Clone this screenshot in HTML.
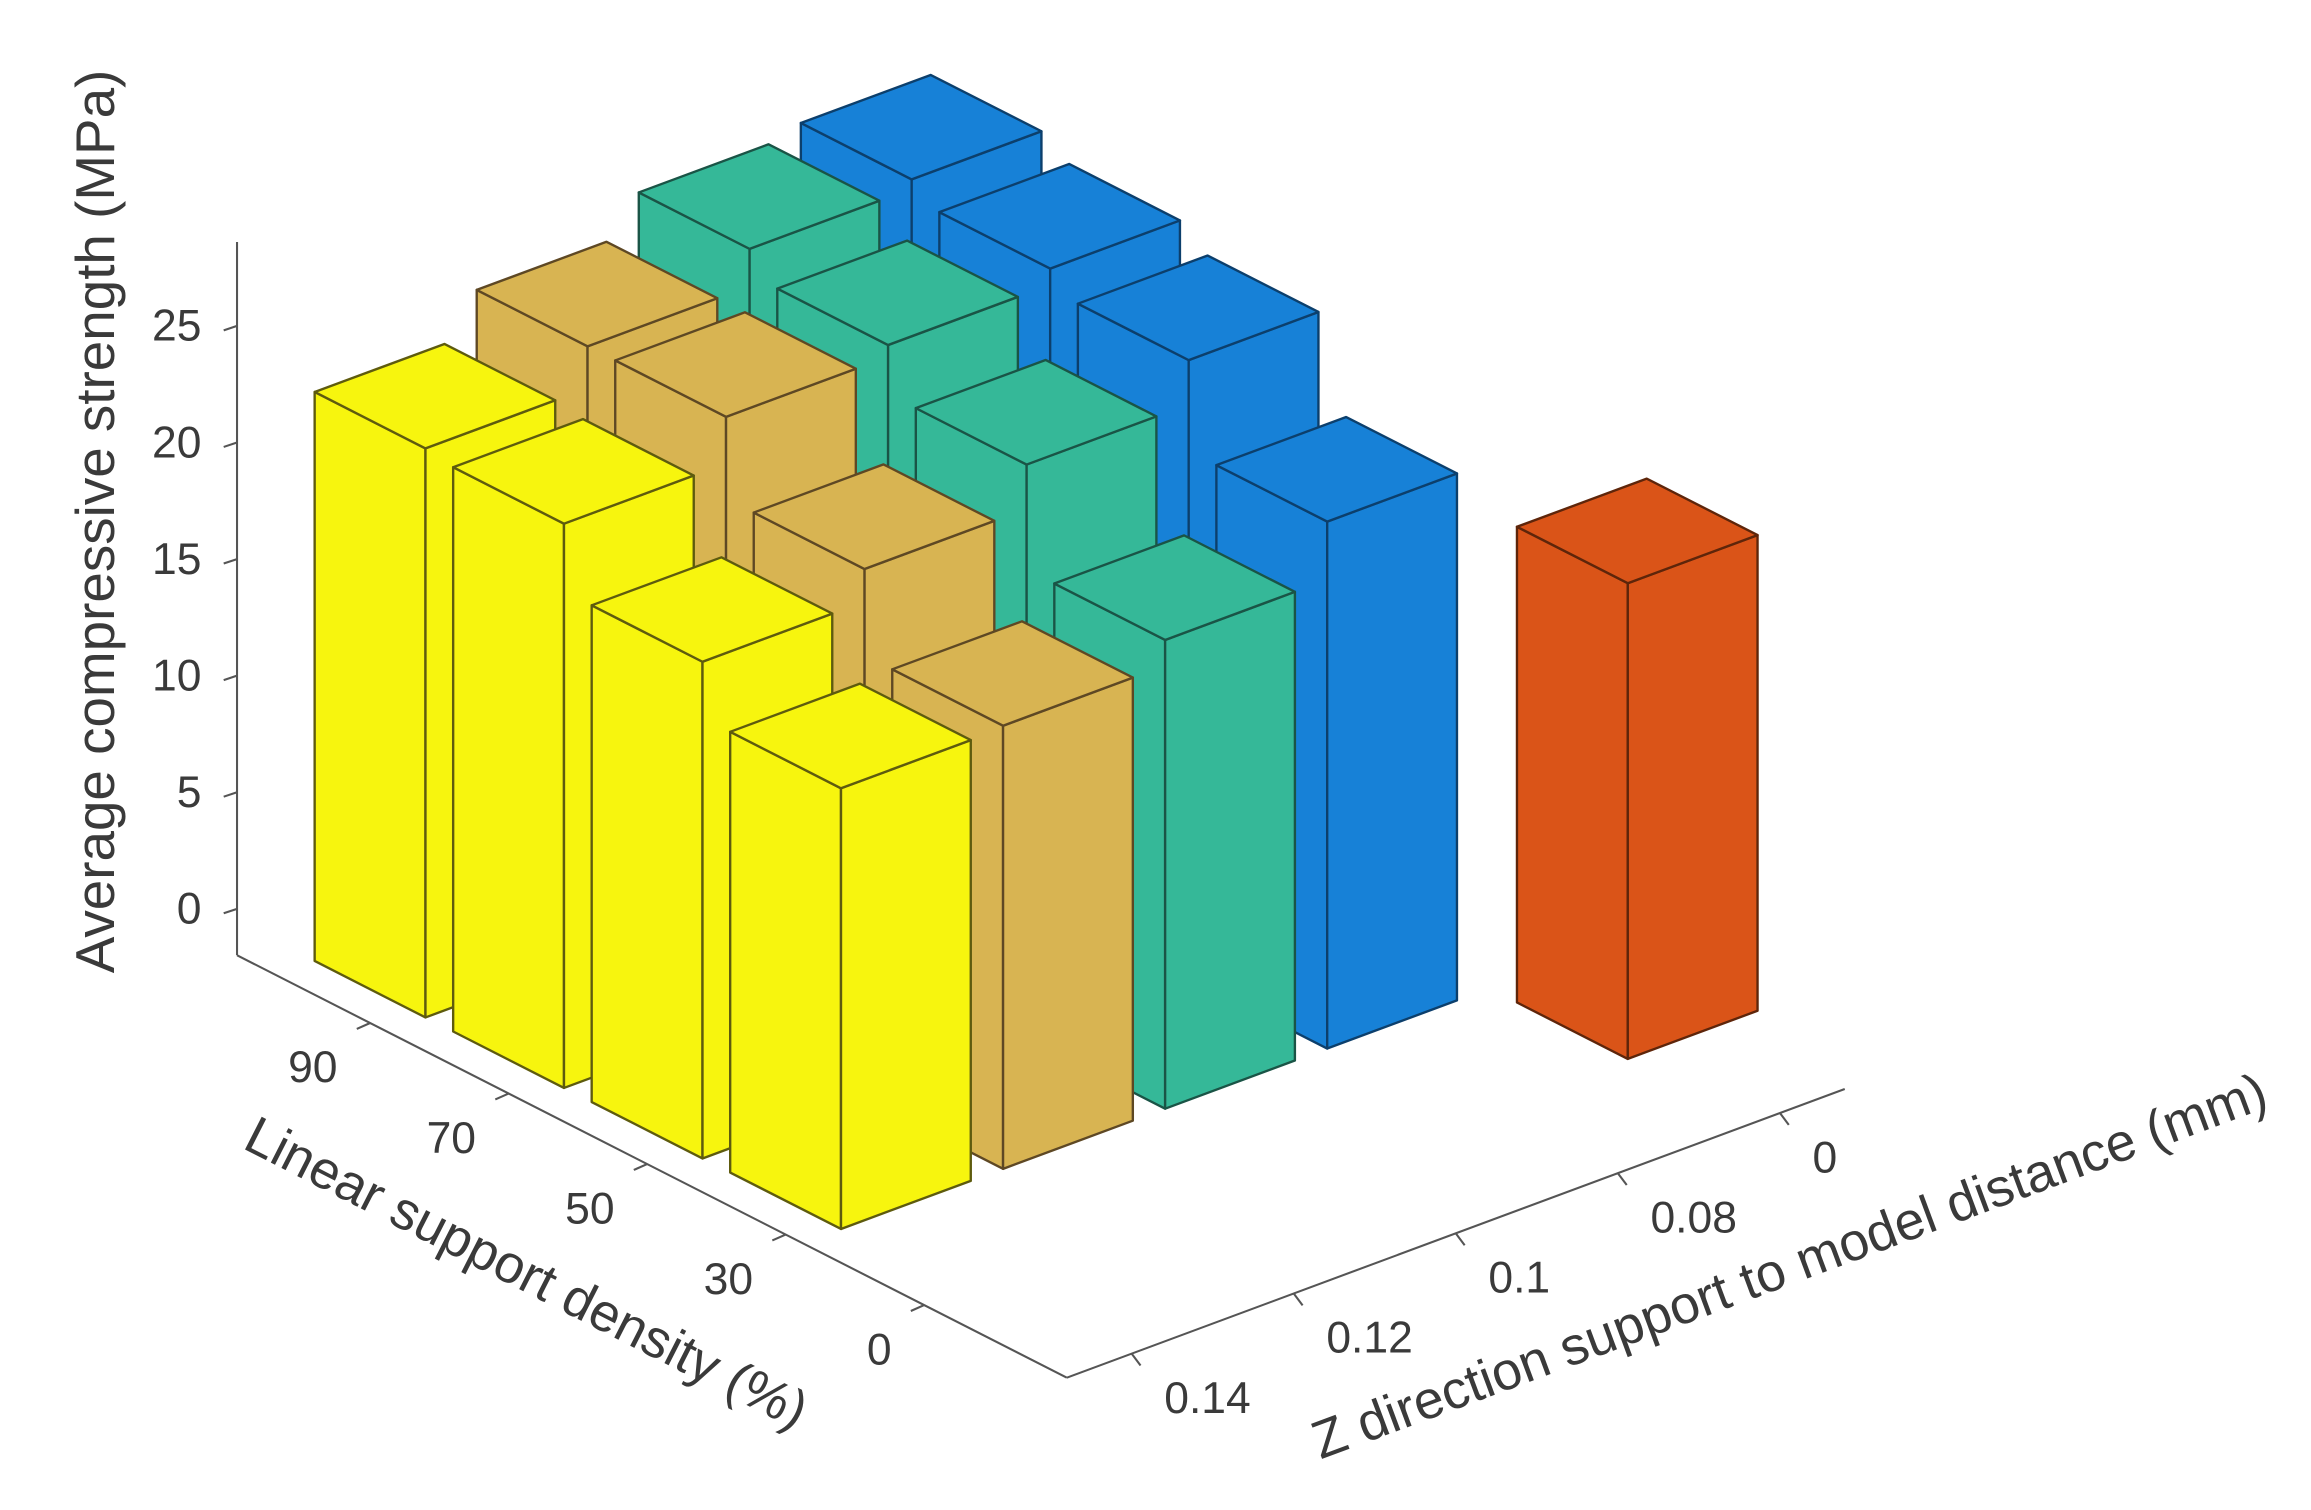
<!DOCTYPE html>
<html><head><meta charset="utf-8"><style>
html,body{margin:0;padding:0;background:#fff;}
svg{display:block;}
text{font-family:"Liberation Sans",Arial,sans-serif;fill:#3a3a3a;}
</style></head><body>
<svg id="chart" width="2311" height="1510" viewBox="0 0 1560 1019.3" preserveAspectRatio="none" xmlns="http://www.w3.org/2000/svg">
<g id="axes"></g>
<g id="bars"></g>
<text transform="translate(77,352) rotate(-90)" text-anchor="middle" font-size="37">Average compressive strength (MPa)</text>
<text transform="translate(350,870) rotate(27)" text-anchor="middle" font-size="36">Linear support density (%)</text>
<text transform="translate(1212,866) rotate(-20.4)" text-anchor="middle" font-size="36">Z direction support to model distance (mm)</text>
</svg>
<script>
const zdistLabels = ['0.14','0.12','0.1','0.08','0'];
const densityLabels = ['90','70','50','30','0'];
const zTicks = [0,5,10,15,20,25];
const yellowVals = [24.4,24.2,21.3,18.9];
const tanVals = [26.2,26.2,22.7,19.0];
const tealVals = [27.8,26.7,24.6,20.1];
const blueVals = [28.2,27.4,26.5,22.6];
const redVals = [20.4];
const seriesVals = [yellowVals, tanVals, tealVals, blueVals, redVals];
const seriesStart = [0,0,0,0,4];

const NS='http://www.w3.org/2000/svg';
const P0=[293.6,651.5], E1=[109.4,-40.6], E2=[93.5,47.6], ZS=15.74;
const AX0=[160,613.5];
const X0=-0.4,X1=4.4,Y0=-0.96,Y1=5.03,ZMIN=-1.45;
function proj(x,y,z){return [P0[0]+x*E1[0]+y*E2[0], P0[1]+x*E1[1]+y*E2[1]-z*ZS];}
function pt(p){return p[0].toFixed(1)+','+p[1].toFixed(1);}
const colors=['#f7f50e','#d8b452','#35b898','#1781d7','#da5418'];
const edges=['#5e5b0e','#5e4824','#1a5446','#0c3f6c','#5e250a'];
const axes=document.getElementById('axes');
const barsG=document.getElementById('bars');
function line(g,a,b,c,w){const l=document.createElementNS(NS,'line');l.setAttribute('x1',a[0]);l.setAttribute('y1',a[1]);l.setAttribute('x2',b[0]);l.setAttribute('y2',b[1]);l.setAttribute('stroke',c);l.setAttribute('stroke-width',w);g.appendChild(l);return l;}
function txt(g,s,x,y,anchor,fs){const t=document.createElementNS(NS,'text');t.setAttribute('x',x);t.setAttribute('y',y);t.setAttribute('text-anchor',anchor);t.setAttribute('font-size',fs);t.textContent=s;g.appendChild(t);return t;}

const B=proj(X0,Y0,ZMIN), F=proj(X0,Y1,ZMIN), R=proj(X1,Y1,ZMIN);
const fl1=line(axes,B,F,'#555',1.4);


const fl2=line(axes,F,R,'#555',1.4);


const zl=line(axes,[AX0[0],B[1]],[AX0[0],AX0[1]-28.6*ZS],'#555',1.4);


zTicks.forEach(v=>{
  const y=AX0[1]-v*ZS;
  line(axes,[AX0[0],y],[AX0[0]-9,y+3],'#555',1.4);
  const t=txt(axes,String(v),136,y+10,'end',30);
  
  
});
densityLabels.forEach((s,j)=>{
  const p=proj(X0,j,ZMIN);
  line(axes,p,[p[0]-9,p[1]+4],'#555',1.4);
  const t=txt(axes,s,p[0]-22,p[1]+40,'end',30);
  
  
});
zdistLabels.forEach((s,i)=>{
  const p=proj(i,Y1,ZMIN);
  line(axes,p,[p[0]+6,p[1]+8],'#555',1.4);
  const t=txt(axes,s,p[0]+22,p[1]+40,'start',30);
  
  
});

const list=[];
seriesVals.forEach((vals,i)=>{vals.forEach((h,k)=>{const j=seriesStart[i]+k;list.push({i,j,h});});});
list.sort((a,b)=>(E2[1]*a.j+E1[1]*a.i)-(E2[1]*b.j+E1[1]*b.i));
const W=0.4;
list.forEach(b=>{
  const g=document.createElementNS(NS,'g');
  
  
  const x=b.i,y=b.j,h=b.h;
  const Lb=proj(x-W,y-W,0),Fb=proj(x-W,y+W,0),Rb=proj(x+W,y+W,0);
  const Lt=proj(x-W,y-W,h),Ft=proj(x-W,y+W,h),Rt=proj(x+W,y+W,h),Bt=proj(x+W,y-W,h);
  const faces=[[Lb,Fb,Ft,Lt],[Fb,Rb,Rt,Ft],[Lt,Ft,Rt,Bt]];
  faces.forEach(f=>{
    const p=document.createElementNS(NS,'polygon');
    p.setAttribute('points',f.map(pt).join(' '));
    p.setAttribute('fill',colors[b.i]);
    p.setAttribute('stroke',edges[b.i]);
    p.setAttribute('stroke-width','1.6');
    p.setAttribute('stroke-linejoin','round');
    g.appendChild(p);
  });
  barsG.appendChild(g);
});
</script>
</body></html>
